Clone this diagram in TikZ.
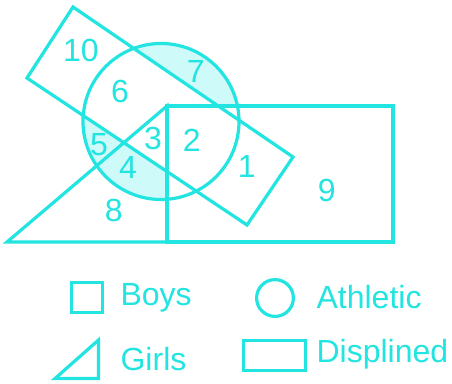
\documentclass[tikz,border=0pt]{standalone}
\usepackage{fontspec}
\setmainfont{Liberation Sans}
\usetikzlibrary{
  calc,
  positioning}
\definecolor{aqua}{RGB}{34,228,224}
\definecolor{aquafill}{RGB}{206,250,250}

\begin{document}
\begin{tikzpicture}[
  x=0.75pt,y=-0.75pt,
  line width=2.4pt,
  every node/.style={text=aqua,font=\fontsize{24}{28}\selectfont,inner sep=0pt},
  outline/.style={draw=aqua,line join=miter},
  region/.style={fill=aquafill}
]%
  \useasboundingbox (0,0) rectangle (452,383);

  % corners
  \coordinate (rt) at (73,7);
  \coordinate (rr) at (293,157);
  \coordinate (rb) at (247,225);
  \coordinate (rl) at (27,78);
  \coordinate (tA) at (167,106);
  \coordinate (tL) at (7,242);
  \coordinate (tR) at (167,242);
  \coordinate (dNE) at (393,106);
  \coordinate (dSE) at (393,242);
  \coordinate (cA) at (161,121.5);

  % shaded regions
  \begin{scope}
    \clip (cA) circle[radius=58.5pt];
    \fill[region] ($(rt)!-1!(rr)$) -- (intersection of rt--rr and tA--dNE) -- (dNE) -- ++(0,-200) -- cycle;
    \fill[region] (intersection of rl--rb and tL--tA) -- (rl) -- (tL) -- cycle;
    \fill[region] (intersection of rl--rb and tL--tA) -- (intersection of rl--rb and tA--tR) -- (tR) -- (tL) -- cycle;
  \end{scope}

  \draw[outline] (cA) circle[radius=58.5pt];
  \draw[outline] (rt) -- (rr) -- (rb) -- (rl) -- cycle;
  \draw[outline] (tA) rectangle (dSE);
  \draw[outline] (tA) -- (tL) -- (tR) -- cycle;

  \node (n10) at (81,50.5)    {10};
  \node (n7)  at (195.7,71.7) {7};
  \node (n6)  at (120,91.7)   {6};
  \node (n3)  at (153,138)    {3};
  \node (n2)  at (191.7,140)  {2};
  \node (n5)  at (99,145)     {5};
  \node (n4)  at (128,167)    {4};
  \node (n1)  at (246.7,166.7) {1};
  \node (n9)  at (326.7,190.8) {9};
  \node (n8)  at (113.8,210.8) {8};

  % legend
  \node[outline,minimum size=23pt] (boysKey) at (87,297.5) {};
  \node[outline,circle,minimum size=27.6pt] (athleticKey) at (275,298) {};
  \draw[outline] (55,378.5) -- (98.5,340) -- (98.5,378.5) -- cycle;
  \node[outline,minimum width=46.4pt,minimum height=22.4pt] (displinedKey) at (274.5,355.5) {};

  \node[anchor=base west] (boysText)      at (119,305) {Boys};
  \node[anchor=base west] (athleticText)  at (315,308) {Athletic};
  \node[anchor=base west] (girlsText)     at (119,370) {Girls};
  \node[anchor=base west] (displinedText) at (315,362) {Displined};

\end{tikzpicture}
\end{document}
